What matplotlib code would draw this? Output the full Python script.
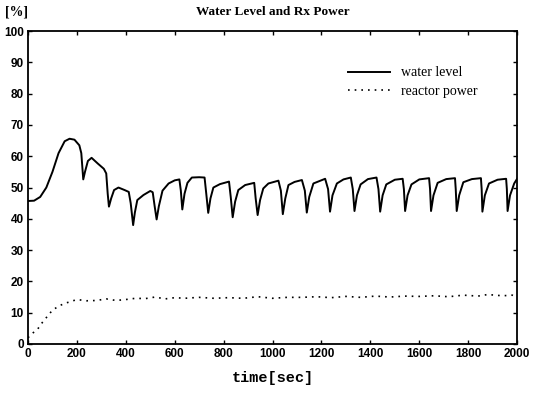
import matplotlib
matplotlib.use("Agg")
import matplotlib.pyplot as plt

# water level [%] vs time [sec]
level_t = [0, 25, 50, 75, 100, 125, 150, 170, 190, 210, 218, 226, 233, 245, 260, 285, 310, 320, 326, 331,
           340, 352, 370, 395, 412, 420, 430, 437, 447, 472, 500, 510, 518, 526, 535, 550, 575, 600, 619, 625,
           631, 640, 652, 670, 700, 722, 729, 737, 746, 758, 785, 822, 829, 837, 847, 860, 888, 925, 931, 939,
           949, 962, 983, 1024, 1034, 1042, 1052, 1065, 1090, 1120, 1132, 1140, 1150, 1167, 1215, 1227, 1235,
           1245, 1263, 1290, 1320, 1328, 1335, 1345, 1360, 1390, 1425, 1433, 1440, 1450, 1465, 1500, 1532,
           1537, 1542, 1552, 1568, 1600, 1640, 1644, 1648, 1658, 1675, 1710, 1746, 1749, 1753, 1763, 1780,
           1815, 1852, 1855, 1858, 1868, 1885, 1920, 1955, 1958, 1961, 1971, 1988, 2000]
level = [45.7, 45.8, 47.0, 50.0, 55.0, 61.0, 64.8, 65.6, 65.3, 63.5, 61.0, 52.6, 55.0, 58.5, 59.5, 57.7, 56.0,
         54.5, 48.0, 43.9, 46.5, 49.2, 50.0, 49.2, 48.6, 45.0, 38.0, 42.0, 46.0, 47.6, 48.9, 48.5, 44.0, 39.8,
         44.0, 49.0, 51.3, 52.3, 52.6, 49.0, 43.0, 48.0, 51.5, 53.2, 53.3, 53.2, 48.0, 41.9, 46.5, 50.0, 51.1,
         51.9, 47.0, 40.5, 45.5, 49.2, 50.8, 51.5, 46.5, 41.2, 46.0, 49.7, 51.3, 52.2, 49.0, 41.5, 46.5, 50.8,
         51.8, 52.4, 49.0, 42.0, 47.0, 51.3, 52.8, 49.5, 42.3, 47.5, 51.3, 52.6, 53.2, 49.5, 42.5, 47.5, 51.0,
         52.7, 53.2, 49.5, 42.3, 47.5, 51.0, 52.5, 52.8, 49.5, 42.5, 47.5, 51.0, 52.6, 53.0, 49.5, 42.5, 47.5,
         51.5, 52.7, 53.0, 49.5, 42.5, 47.5, 51.7, 52.7, 53.0, 49.5, 42.3, 47.5, 51.3, 52.5, 52.8, 49.5, 42.5,
         47.5, 51.3, 52.8]

# reactor power [%]
power_t = [0, 20, 40, 60, 80, 100, 130, 160, 200, 240, 280, 320, 360, 400, 440, 480, 520, 560, 600, 640,
           700, 760, 820, 880, 940, 1000, 1060, 1120, 1180, 1240, 1300, 1360, 1420, 1480, 1540, 1600, 1660,
           1720, 1780, 1840, 1880, 1940, 1980, 2000]
power = [2.0, 3.5, 4.8, 7.0, 8.9, 10.8, 12.3, 13.2, 14.2, 13.8, 13.9, 14.4, 13.9, 14.2, 14.6, 14.5, 15.0,
         14.4, 14.8, 14.6, 14.9, 14.6, 14.8, 14.6, 15.1, 14.6, 14.9, 14.9, 15.1, 14.8, 15.2, 14.9, 15.3, 15.0,
         15.3, 15.2, 15.4, 15.1, 15.6, 15.3, 15.8, 15.4, 15.6, 15.1]

fig = plt.figure(figsize=(5.34, 3.94), dpi=100)
ax = fig.add_axes([0.0524, 0.127, 0.916, 0.794])

ax.plot(level_t, level, color="black", linewidth=1.4, label="water level")
ax.plot(power_t, power, color="black", linewidth=1.2, linestyle=(0, (1, 3)), label="reactor power")

ax.set_xlim(0, 2000)
ax.set_ylim(0, 100)
ax.set_xticks(range(0, 2001, 200))
ax.set_yticks(range(0, 101, 10))
ax.tick_params(direction="in", top=True, right=True, length=3, width=1, pad=3)
for lab in ax.get_xticklabels() + ax.get_yticklabels():
    lab.set_fontweight("bold")
    lab.set_fontsize(8.5)
    lab.set_family("Liberation Sans")
for sp in ax.spines.values():
    sp.set_linewidth(1.3)

ax.set_xlabel("time[sec]", family="Liberation Mono", fontweight="bold", fontsize=11, labelpad=8)
fig.text(0.51, 0.97, "Water Level and Rx Power", ha="center", va="center",
         family="Liberation Serif", fontweight="bold", fontsize=9.5)
fig.text(0.03, 0.97, "[%]", ha="center", va="center",
         family="Liberation Serif", fontweight="bold", fontsize=10)

ax.legend(loc="upper left", bbox_to_anchor=(0.654, 0.887), frameon=False, borderpad=0,
          borderaxespad=0, handlelength=3.0, handletextpad=0.86, labelspacing=0.4,
          prop={"family": "Liberation Serif", "size": 10})

plt.savefig("out.png", dpi=100)
